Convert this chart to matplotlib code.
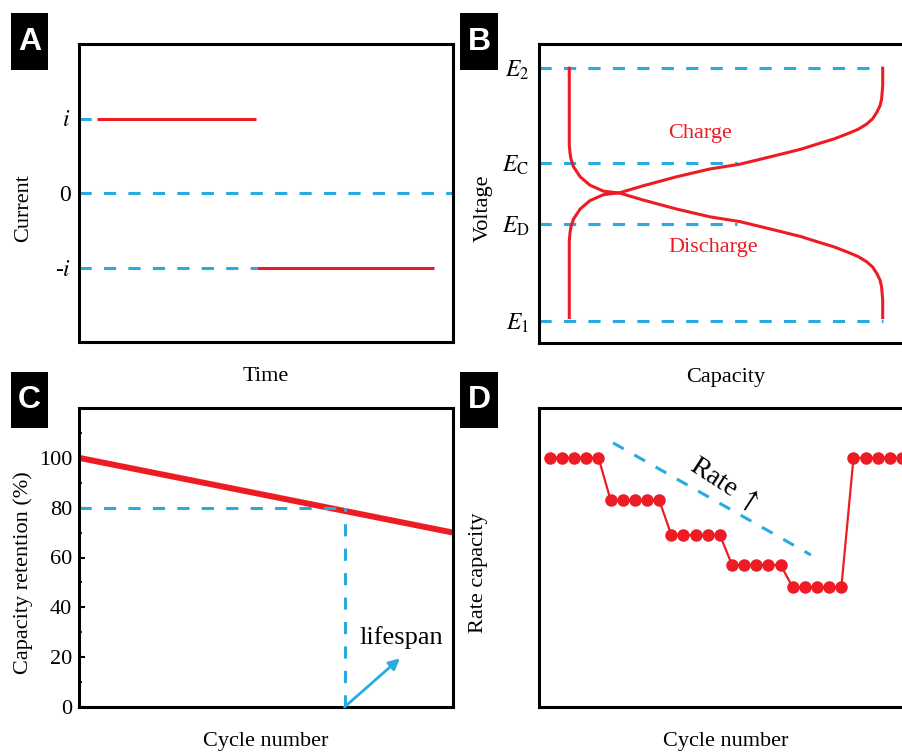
import matplotlib
import matplotlib.pyplot as plt
from matplotlib.patches import Rectangle
from matplotlib.ticker import MultipleLocator

matplotlib.use("Agg")

W, H = 903, 754
RED = "#ed1c24"
BLUE = "#29abe2"

plt.rcParams["font.family"] = ["Liberation Serif", "DejaVu Serif"]
plt.rcParams["mathtext.fontset"] = "stix"
plt.rcParams["font.size"] = 16

# A: constant-current charge / discharge steps
current_levels = [1, 0, -1]
current_labels = [r"$i$", "0", r"-$i$"]
charge_span = [0.048, 0.473]
discharge_span = [0.476, 0.949]

# B: voltage profiles vs capacity
voltage_levels = [0.074, 0.398, 0.602, 0.92]
voltage_labels = [r"$E_1$", r"$E_\mathrm{D}$", r"$E_\mathrm{C}$", r"$E_2$"]
plateau_end = 0.53
capacity = [0.081, 0.081, 0.083, 0.085, 0.092, 0.110, 0.136, 0.172, 0.217,
            0.279, 0.368, 0.457, 0.537, 0.626, 0.700, 0.743, 0.790, 0.823,
            0.852, 0.876, 0.892, 0.903, 0.912, 0.916, 0.919, 0.919]
discharge_v = [0.919, 0.662, 0.635, 0.618, 0.590, 0.556, 0.528, 0.508, 0.501,
               0.478, 0.448, 0.422, 0.406, 0.379, 0.356, 0.339, 0.321, 0.305,
               0.290, 0.272, 0.254, 0.233, 0.210, 0.188, 0.144, 0.085]
charge_v = [0.085, 0.342, 0.369, 0.386, 0.414, 0.448, 0.476, 0.496, 0.503,
            0.526, 0.556, 0.582, 0.598, 0.625, 0.648, 0.665, 0.683, 0.699,
            0.714, 0.732, 0.750, 0.771, 0.794, 0.816, 0.860, 0.919]

# C: capacity retention fade
retention_cycles = [0, 1]
retention_pct = [100, 70]
lifespan_cycle = 0.71
lifespan_limit = 80
arrow_tip = (0.858, 19.5)

# D: rate capability test
rate_cycles = list(range(1, 31))
rate_capacity = [100, 100, 100, 100, 100,
                 83, 83, 83, 83, 83,
                 69, 69, 69, 69, 69,
                 57, 57, 57, 57, 57,
                 48, 48, 48, 48, 48,
                 100, 100, 100, 100, 100]
trend_x = [6.2, 22.5]
trend_y = [106, 61]


def make_axes(fig, x0, y0, x1, y1):
    # box given in pixels from the top-left corner
    ax = fig.add_axes([x0 / W, 1 - y1 / H, (x1 - x0) / W, (y1 - y0) / H])
    for sp in ax.spines.values():
        sp.set_linewidth(2.2)
    ax.tick_params(length=0)
    ax.set_xticks([])
    return ax


def badge(fig, letter, x0, y0, x1, y1):
    fig.add_artist(Rectangle((x0 / W, 1 - y1 / H), (x1 - x0) / W, (y1 - y0) / H,
                             transform=fig.transFigure, facecolor="black",
                             edgecolor="none"))
    fig.text((x0 + x1) / 2 / W, 1 - (y0 + y1) / 2 / H, letter, color="white",
             fontsize=23, fontweight="bold", family="Liberation Sans",
             ha="center", va="center")


dash = dict(color=BLUE, lw=2.2, linestyle=(0, (4, 4)))

fig = plt.figure(figsize=(W / 100, H / 100), dpi=100)

# ---- A ----
ax = make_axes(fig, 79, 44, 453, 342)
ax.set_xlim(0, 1)
ax.set_ylim(-2, 2)
ax.hlines(current_levels[0], 0, charge_span[0], **dash)
ax.hlines(current_levels[1], 0, 1, **dash)
ax.hlines(current_levels[2], 0, discharge_span[0], **dash)
ax.hlines(current_levels[0], *charge_span, color=RED, lw=2.2)
ax.hlines(current_levels[2], *discharge_span, color=RED, lw=2.2)
ax.set_yticks(current_levels, current_labels)
ax.tick_params(axis="y", pad=6, labelsize=17)
ax.set_xlabel("Time")
ax.xaxis.set_label_coords(0.5, -0.084)
ax.set_ylabel("Current")
ax.yaxis.set_label_coords(-0.123, 0.45)

# ---- B ----
ax = make_axes(fig, 539, 44, 913, 343)
ax.set_xlim(0, 1)
ax.set_ylim(0, 1)
for lvl, end in zip(voltage_levels, [capacity[-1], plateau_end, plateau_end, capacity[-1]]):
    ax.hlines(lvl, 0, end, **dash)
ax.plot(capacity, discharge_v, color=RED, lw=2.2)
ax.plot(capacity, charge_v, color=RED, lw=2.2)
ax.text(0.43, 0.70, "Charge", color=RED, ha="center", va="center")
ax.text(0.465, 0.318, "Discharge", color=RED, ha="center", va="center")
ax.set_yticks(voltage_levels, voltage_labels)
ax.tick_params(axis="y", pad=7, labelsize=17)
ax.set_xlabel("Capacity")
ax.xaxis.set_label_coords(0.5, -0.084)
ax.set_ylabel("Voltage")
ax.yaxis.set_label_coords(-0.123, 0.45)

# ---- C ----
ax = make_axes(fig, 79, 408, 453, 707)
ax.set_xlim(0, 1)
ax.set_ylim(0, 120)
ax.plot(retention_cycles, retention_pct, color=RED, lw=4.3, solid_capstyle="butt")
ax.hlines(lifespan_limit, 0, lifespan_cycle, **dash)
ax.vlines(lifespan_cycle, 0, lifespan_limit, **dash)
ax.annotate("", xy=arrow_tip, xytext=(lifespan_cycle, 0),
            arrowprops=dict(arrowstyle="-|>", color=BLUE, lw=2,
                            mutation_scale=16, shrinkA=0, shrinkB=0))
ax.text(0.751, 28, "lifespan", fontsize=19, va="center")
ax.yaxis.set_major_locator(MultipleLocator(20))
ax.yaxis.set_minor_locator(MultipleLocator(10))
ax.set_yticks(range(0, 101, 20))
ax.tick_params(axis="y", which="major", direction="in", length=4, width=1.5, pad=5)
ax.tick_params(axis="y", which="minor", direction="in", length=2.5, width=1.2)
ax.set_xlabel("Cycle number")
ax.xaxis.set_label_coords(0.5, -0.084)
ax.set_ylabel("Capacity retention (%)")
ax.yaxis.set_label_coords(-0.123, 0.45)

# ---- D ----
ax = make_axes(fig, 539, 408, 913, 707)
ax.set_xlim(0.1, 30.9)
ax.set_ylim(0, 120)
ax.set_yticks([])
ax.plot(rate_cycles, rate_capacity, color=RED, lw=1.6, marker="o",
        markersize=9, markeredgewidth=0)
ax.plot(trend_x, trend_y, **dash)
ax.text(15.4, 89.6, r"Rate $\uparrow$", fontsize=20, rotation=-33,
        ha="center", va="center", rotation_mode="anchor")
ax.set_xlabel("Cycle number")
ax.xaxis.set_label_coords(0.5, -0.084)
ax.set_ylabel("Rate capacity")
ax.yaxis.set_label_coords(-0.136, 0.45)

badge(fig, "A", 11, 13, 48, 70)
badge(fig, "B", 460, 13, 498, 70)
badge(fig, "C", 11, 372, 48, 428)
badge(fig, "D", 460, 372, 498, 428)

fig.savefig("out.png", dpi=100)
